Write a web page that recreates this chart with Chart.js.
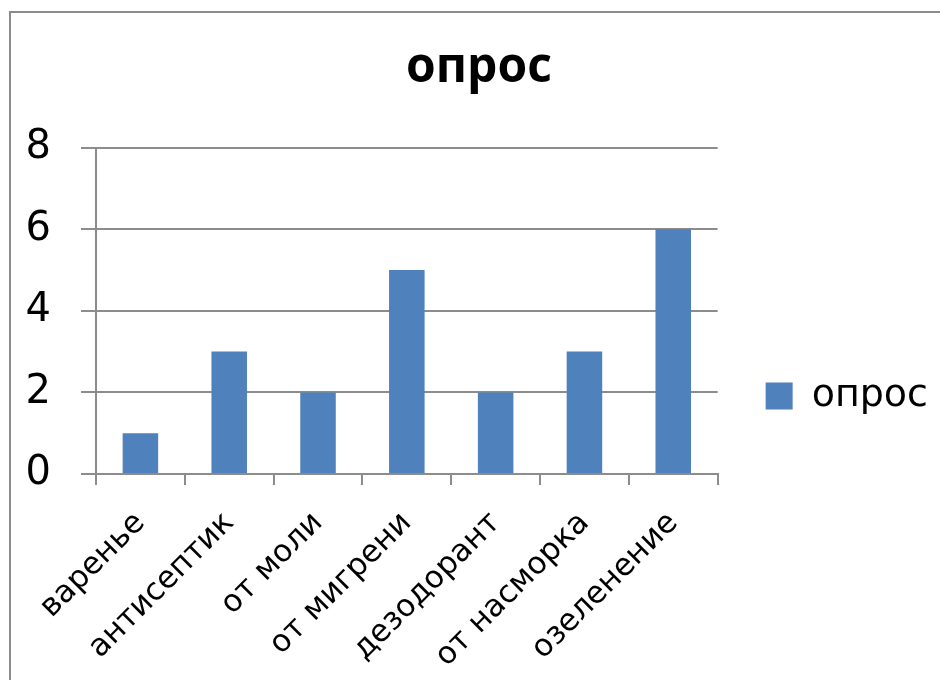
<!DOCTYPE html>
<html>
<head>
<meta charset="utf-8">
<script src="https://cdn.jsdelivr.net/npm/chart.js@4"></script>
<style>
    body { margin: 0; background: #fff; overflow: hidden; }
    #wrap { position: relative; width: 940px; height: 680px; }
    #frame { position: absolute; left: 9px; top: 11px; width: 1000px; height: 700px; border: 2px solid #8c8c8c; box-sizing: border-box; }
    canvas { position: absolute; left: 0; top: 0; }
</style>
</head>
<body>
<div id="wrap">
    <div id="frame"></div>
    <canvas id="opros" width="940" height="680"></canvas>
</div>
<script>
// данные опроса
let categorias = ["варенье", "антисептик", "от моли", "от мигрени", "дезодорант", "от насморка", "озеленение"];
let valores = [1, 3, 2, 5, 2, 3, 6];
let nome_serie = "опрос";
let titulo = "опрос";
let y_max = 8;
let y_passo = 2;

let cor_barra = "#4f81bd";
let cor_grade = "#8c8c8c";
let fonte = "'DejaVu Sans', 'Open Sans', sans-serif";

new Chart("opros", {
    type: "bar",
    data: {
        labels: categorias,
        datasets: [{
            label: nome_serie,
            backgroundColor: cor_barra,
            data: valores,
            barPercentage: 0.4,
            categoryPercentage: 1
        }]
    },
    options: {
        responsive: false,
        animation: false,
        layout: {
            padding: { left: 20, top: 40, right: 2, bottom: 14 }
        },
        plugins: {
            title: {
                display: true,
                text: titulo,
                color: "#000",
                font: { family: "'Open Sans', sans-serif", size: 48, weight: "bold" },
                padding: { top: 0, bottom: 50 }
            },
            legend: {
                position: "right",
                // titulo vazio so para descer a legenda
                title: {
                    display: true,
                    text: " ",
                    font: { size: 10 },
                    padding: { top: 74, bottom: 0 }
                },
                labels: {
                    color: "#000",
                    boxWidth: 27,
                    boxHeight: 27,
                    padding: 48,
                    font: { family: fonte, size: 38 }
                }
            },
            tooltip: { enabled: false }
        },
        scales: {
            y: {
                min: 0,
                max: y_max,
                afterFit: (scale) => { scale.width = 76; },
                ticks: {
                    stepSize: y_passo,
                    color: "#000",
                    padding: 30,
                    font: { family: fonte, size: 40 }
                },
                grid: { color: cor_grade, lineWidth: 2, tickLength: 15 },
                border: { color: cor_grade, width: 2 }
            },
            x: {
                afterFit: (scale) => { scale.height = 192; },
                ticks: {
                    color: "#000",
                    maxRotation: 45,
                    minRotation: 45,
                    padding: 20,
                    font: { family: fonte, size: 31 }
                },
                grid: { display: true, drawOnChartArea: false, offset: true, color: cor_grade, lineWidth: 2, tickLength: 11 },
                border: { color: cor_grade, width: 2 }
            }
        }
    }
});
</script>
</body>
</html>
